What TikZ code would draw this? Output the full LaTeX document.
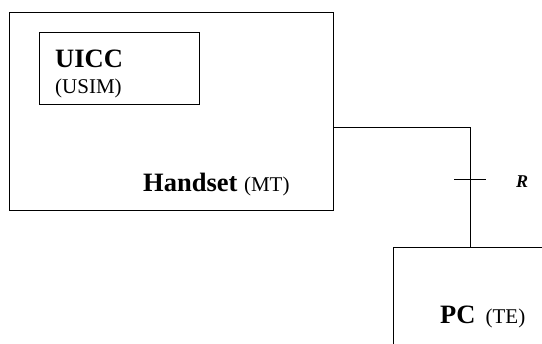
\documentclass[tikz,border=0pt]{standalone}
\usepackage{fontspec}
\setmainfont{Liberation Serif}
\usepackage{tikz}

\tikzset{
	box/.style={draw, line width=0.9pt, inner sep=0pt, anchor=north west},
	lbl/.style={inner sep=0pt, anchor=base west},
	bigtxt/.style={lbl, font=\fontsize{26.5}{30}\selectfont\bfseries},
	smalltxt/.style={lbl, font=\fontsize{21}{24}\selectfont}
}

\begin{document}
\begin{tikzpicture}[x=1pt, y=-1pt]
		\useasboundingbox (0,0) rectangle (542,344);
		\clip (0,0) rectangle (542,344);
		
		% boxes
		\node[box, minimum width=324pt, minimum height=198pt] (handset) at (9,12) {};
		\node[box, minimum width=160pt, minimum height=72pt] (uicc) at (39,32) {};
		\node[box, minimum width=220pt, minimum height=160pt] (pc) at (393,247) {};
		
		% texts
		\node[bigtxt] (uicc name) at (55,68) {UICC};
		\node[smalltxt] (usim) at (55,94) {(USIM)};
		\node[bigtxt] (handset name) at (143,192) {Handset \textmd{\fontsize{21}{24}\selectfont(MT)}};
		\node[bigtxt] (pc name) at (440,324) {PC \textmd{\fontsize{21}{24}\selectfont\,(TE)}};
		
		% R interface
		\coordinate (mt port) at (handset.east |- 0,127);
		\coordinate (te port) at (pc.north west -| 470,0);
		\coordinate (tick) at (470,179);
		\draw[line width=0.9pt] (mt port) -| (te port);
		\draw[line width=0.9pt] ([xshift=-16pt]tick) -- ([xshift=16pt]tick);
		\node[lbl, font=\fontsize{18}{21}\selectfont\bfseries\itshape] (r) at (516,188) {R};
	\end{tikzpicture}
\end{document}
